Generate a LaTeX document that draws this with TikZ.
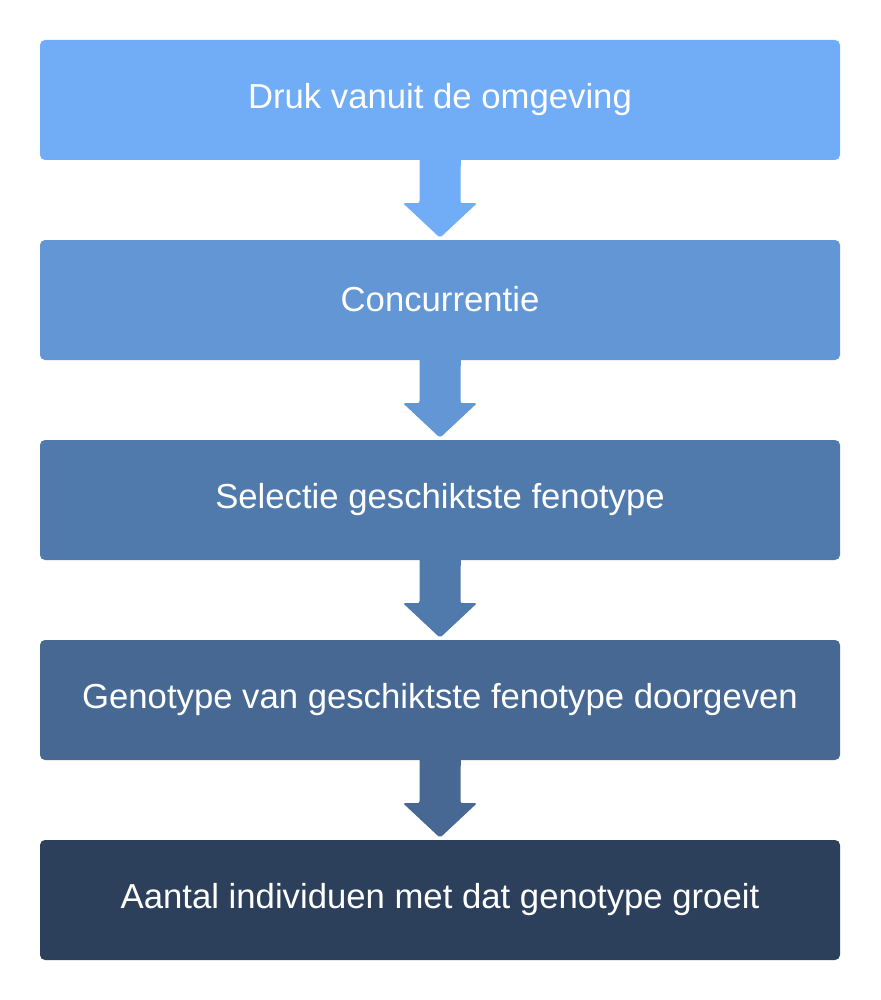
\documentclass[tikz,border=0pt]{standalone}
\usepackage{fontspec}
\setmainfont{Liberation Sans}
\begin{document}
\begin{tikzpicture}[x=1pt,y=-1pt,
  stepbox/.style={rounded corners=5pt,minimum width=800pt,minimum height=120pt,inner sep=0pt,text=white,font=\fontsize{34.7}{40}\selectfont},
  flowarrow/.style={rounded corners=2pt}]
\useasboundingbox (0,0) rectangle (880,1000);
\definecolor{cA}{RGB}{112,173,246}
\definecolor{cB}{RGB}{98,150,213}
\definecolor{cC}{RGB}{80,122,172}
\definecolor{cD}{RGB}{70,104,147}
\definecolor{cE}{RGB}{44,64,91}
\node[stepbox,fill=cA] (b1) at (440,100) {\raisebox{2pt}{Druk vanuit de omgeving}};
\node[stepbox,fill=cB] (b2) at (440,300) {\raisebox{2pt}{Concurrentie}};
\node[stepbox,fill=cC] (b3) at (440,500) {\raisebox{2pt}{Selectie geschiktste fenotype}};
\node[stepbox,fill=cD] (b4) at (440,700) {\raisebox{2pt}{Genotype van geschiktste fenotype doorgeven}};
\node[stepbox,fill=cE] (b5) at (440,900) {\raisebox{2pt}{Aantal individuen met dat genotype groeit}};
\foreach \a/\b/\c in {b1/b2/cA,b2/b3/cB,b3/b4/cC,b4/b5/cD}{
  \fill[\c,flowarrow] ([xshift=-20.5pt,yshift=2pt]\a.south) -- ([xshift=-20.5pt,yshift=-43pt]\a.south)
    -- ([xshift=-37pt,yshift=-43pt]\a.south) -- ([yshift=2pt]\b.north) -- ([xshift=37pt,yshift=-43pt]\a.south)
    -- ([xshift=20.5pt,yshift=-43pt]\a.south) -- ([xshift=20.5pt,yshift=2pt]\a.south) -- cycle;
  \fill[\c] ([xshift=-20.5pt]\a.south) rectangle ([xshift=20.5pt,yshift=-6pt]\a.south);
}
\end{tikzpicture}
\end{document}
